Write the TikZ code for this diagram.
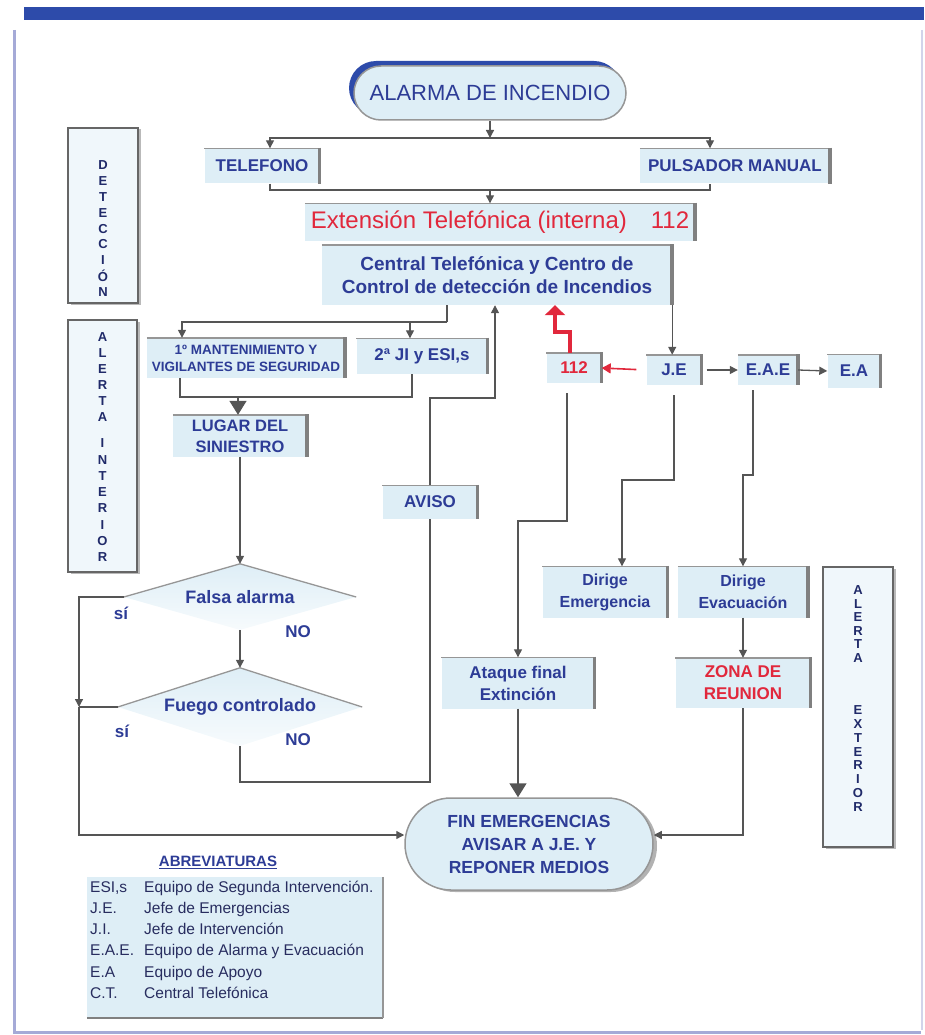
\documentclass[tikz,border=0pt]{standalone}
\usepackage{fontspec}
\setmainfont{Liberation Sans}
\usetikzlibrary{arrows.meta}
\usetikzlibrary{shapes.geometric}
\usetikzlibrary{shapes.misc}
\usetikzlibrary{shadows}

\definecolor{txtblue}{RGB}{45,60,150}
\definecolor{boxfill}{RGB}{222,238,246}
\definecolor{lineg}{RGB}{85,85,85}
\definecolor{edgeg}{RGB}{150,150,150}
\definecolor{redtxt}{RGB}{225,40,60}
\definecolor{barblue}{RGB}{45,75,170}
\definecolor{framel}{RGB}{165,170,215}
\definecolor{legtxt}{RGB}{40,45,95}

\begin{document}
\begin{tikzpicture}[x=1pt,y=-1pt,
  panel/.style={fill=boxfill, text=txtblue, align=center, inner sep=0pt,
    font=\bfseries\fontsize{17}{22}\selectfont,
    append after command={(\tikzlastnode.north west) edge[draw=edgeg,line width=1.5pt] (\tikzlastnode.north east)
      ([yshift=0.75pt]\tikzlastnode.north east) edge[draw=gray,line width=3.5pt] (\tikzlastnode.south east)}},
  flow/.style={draw=lineg, line width=1.3pt, -{Triangle[length=8pt,width=8pt]}},
  plain/.style={draw=lineg, line width=1.3pt},
  bigflow/.style={draw=lineg, line width=1.5pt, -{Triangle[length=14pt,width=17pt]}},
  redflow/.style={draw=redtxt, line width=1.6pt, -{Triangle[length=9pt,width=10pt]}},
  bigred/.style={draw=redtxt, line width=3.5pt, -{Triangle[length=10pt,width=20pt]}},
  pill/.style={rounded rectangle, draw=edgeg, line width=1.5pt, fill=boxfill, text=txtblue, align=center, inner sep=0pt},
  decision/.style={diamond, aspect=3.5, inner sep=0pt, top color=boxfill, bottom color=boxfill!25, text=txtblue,
    font=\bfseries\fontsize{18}{22}\selectfont,
    append after command={(\tikzlastnode.west) edge[draw=edgeg,line width=1.3pt] (\tikzlastnode.north)
      (\tikzlastnode.north) edge[draw=edgeg,line width=1.3pt] (\tikzlastnode.east)}},
  sidebox/.style={draw=lineg!90, line width=2pt, fill=boxfill!45,
    drop shadow={shadow xshift=3pt,shadow yshift=-1.5pt,fill=gray!55,opacity=1}},
  vletter/.style={text=txtblue!70!black, font=\bfseries\fontsize{13}{14}\selectfont, inner sep=0pt},
  yesno/.style={text=txtblue, font=\bfseries\fontsize{17}{20}\selectfont, inner sep=0pt},
  legtext/.style={text=legtxt, font=\fontsize{15.5}{17}\selectfont, anchor=base west, inner sep=0pt}
]
\useasboundingbox (0,0) rectangle (924,1035);
% frame
\fill[barblue] (24,7) rectangle (924,20);
\draw[framel,line width=3pt] (14,30) -- (14,1032) -- (921,1032);
\draw[framel!50,line width=2pt] (922,30) -- (922,1030);

% side labels
\node[sidebox, minimum width=70, minimum height=175] (det) at (103,215.5) {};
\node[sidebox, minimum width=69, minimum height=252] (aint) at (102.5,446) {};
\node[sidebox, minimum width=70, minimum height=280] (aext) at (858,707) {};
\foreach \l [count=\i] in {D,E,T,E,C,C,I,Ó,N}
  \node[vletter] (det\i) at (103,{149.1+15.9*\i}) {\l};
\foreach \l [count=\i] in {A,L,E,R,T,A}
  \node[vletter] (ai\i) at (102.5,{321+16*\i}) {\l};
\foreach \l [count=\i] in {I,N,T,E,R,I,O,R}
  \node[vletter] (ni\i) at (102.5,{427+16.3*\i}) {\l};
\foreach \l [count=\i] in {A,L,E,R,T,A}
  \node[vletter] (ae\i) at (858,{576.4+13.6*\i}) {\l};
\foreach \l [count=\i] in {E,X,T,E,R,I,O,R}
  \node[vletter] (ne\i) at (858,{696+13.9*\i}) {\l};

% boxes
\node[pill, minimum width=272, minimum height=54, font=\fontsize{22}{25}\selectfont,
  drop shadow={shadow xshift=-5pt,shadow yshift=5pt,fill=barblue,opacity=1}] (alarm) at (490,93) {ALARMA DE INCENDIO};
\node[panel, minimum width=115, minimum height=35] (tel) at (262,166) {TELEFONO};
\node[panel, minimum width=190, minimum height=35] (puls) at (735,166) {PULSADOR MANUAL};
\node[panel, minimum width=390, minimum height=37, text=redtxt, font=\fontsize{24}{27}\selectfont] (ext) at (500,222) {Extensión Telefónica (interna)\quad 112};
\node[panel, minimum width=350, minimum height=60, font=\bfseries\fontsize{19}{23}\selectfont] (central) at (497,275) {Central Telefónica y Centro de\\Control de detección de Incendios};
\node[panel, minimum width=198, minimum height=40, font=\bfseries\fontsize{13.5}{17}\selectfont] (mant) at (246,358) {1º MANTENIMIENTO Y\\VIGILANTES DE SEGURIDAD};
\node[panel, minimum width=131, minimum height=35] (jiesi) at (422,356) {2ª JI y ESI,s};
\node[panel, minimum width=134, minimum height=42, font=\bfseries\fontsize{16.5}{21}\selectfont] (lugar) at (240,436) {LUGAR DEL\\SINIESTRO};
\node[panel, minimum width=95, minimum height=33] (aviso) at (430,502) {AVISO};
\node[panel, minimum width=55, minimum height=30, text=redtxt] (n112) at (574,368) {112};
\node[panel, minimum width=55, minimum height=30] (je) at (674,370) {J.E};
\node[panel, minimum width=60, minimum height=30] (eae) at (768,370) {E.A.E};
\node[panel, minimum width=53, minimum height=33] (ea) at (854,371) {E.A};
\node[panel, minimum width=125, minimum height=51, font=\bfseries\fontsize{16}{22}\selectfont] (dirEm) at (605,592) {Dirige\\Emergencia};
\node[panel, minimum width=130, minimum height=51, font=\bfseries\fontsize{16}{22}\selectfont] (dirEv) at (743,592) {Dirige\\Evacuación};
\node[panel, minimum width=153, minimum height=51] (ataque) at (518,683) {Ataque final\\Extinción};
\node[panel, minimum width=135, minimum height=50, text=redtxt] (zona) at (743,683) {ZONA DE\\REUNION};
\node[pill, minimum width=248, minimum height=92, font=\bfseries\fontsize{17.5}{23}\selectfont,
  drop shadow={shadow xshift=4pt,shadow yshift=-2pt,fill=gray!60,opacity=1}] (fin) at (529,844) {FIN EMERGENCIAS\\AVISAR A J.E. Y\\REPONER MEDIOS};

% decisions
\node[decision, minimum width=232, minimum height=66] (falsa) at (240,597) {Falsa alarma};
\node[decision, minimum width=244, minimum height=78] (fuego) at (240,707) {Fuego controlado};
\node[yesno] (si1) at (121,613) {sí};
\node[yesno] (no1) at (298,632) {NO};
\node[yesno] (si2) at (122,731) {sí};
\node[yesno] (no2) at (298,740) {NO};

% connectors
\coordinate (split1) at (490,138);
\coordinate (join1) at (490,190);
\coordinate (split2) at (447,322);
\coordinate (join2) at (238,397);
\coordinate (rail) at (79,707);
\coordinate (loopc) at (430,782);
\coordinate (avup) at (430,398);
\coordinate (redjog) at (555,332);
\coordinate (bend112) at (518,521);
\coordinate (bendje) at (622,480);
\coordinate (bendeae) at (743,475);

\draw[flow] (alarm.south) -- (split1);
\draw[flow] (split1) -| ([xshift=8pt]tel.north);
\draw[flow] (split1) -| ([xshift=-25pt]puls.north);
\draw[plain] ([xshift=8pt]tel.south) |- (join1) -| ([xshift=-25pt]puls.south);
\draw[flow] (join1) -- (join1 |- ext.north);
\draw[plain] (split2 |- central.south) -- (split2);
\draw[flow] (split2) -| ([xshift=-64pt]mant.north);
\draw[flow] (split2) -| ([xshift=-12pt]jiesi.north);
\draw[plain] ([xshift=-66pt]mant.south) |- (join2) -| ([xshift=-10pt]jiesi.south);
\draw[bigflow] (join2) -- (join2 |- lugar.north);
\draw[flow] (lugar) -- (falsa);
\draw[flow] (falsa) -- (fuego);
\draw[flow] (falsa.west) -| (rail);
\draw[plain] (fuego.west) -- (rail);
\draw[flow] (rail) |- ([yshift=9pt]fin.west);
\draw[plain] (fuego.south) |- (loopc) -- (aviso.south);
\draw[flow] (aviso.north) -- (avup) -| ([xshift=-2pt]central.south);
\draw[bigred] ([xshift=-4pt]n112.north) |- (redjog) -- (redjog |- central.south);
\draw[redflow, shorten <=10pt] (je.west) -- (n112.east);
\draw[flow] (central.south east) -- (central.south east |- je.north);
\draw[flow, shorten <=5pt] (je.east) -- (eae.west);
\draw[flow] (eae.east) -- (ea.west);
\draw[flow, shorten <=10pt] ([xshift=-7pt]n112.south) |- (bend112) -- (bend112 |- ataque.north);
\draw[flow, shorten <=10pt] (je.south) |- (bendje) -- (bendje |- dirEm.north);
\draw[flow, shorten <=5pt] ([xshift=-15pt]eae.south) |- (bendeae) -- (dirEv.north);
\draw[flow] (dirEv) -- (zona);
\draw[flow] (zona.south) |- ([yshift=9pt]fin.east);
\draw[bigflow] (ataque.south) -- (ataque.south |- fin.north);

% legend
\node[fill=boxfill, minimum width=296, minimum height=141, inner sep=0pt,
  append after command={(\tikzlastnode.south west) edge[draw=gray,line width=1.5pt] (\tikzlastnode.south east)
    (\tikzlastnode.north east) edge[draw=edgeg,line width=1.5pt] (\tikzlastnode.south east)}] (legend) at (235,947.5) {};
\node[text=txtblue, font=\bfseries\fontsize{15}{17}\selectfont] (abrev) at (218,862) {\underline{ABREVIATURAS}};
\foreach \ab/\tx [count=\i] in {{ESI,s}/{Equipo de Segunda Intervención.},{J.E.}/{Jefe de Emergencias},
    {J.I.}/{Jefe de Intervención},{E.A.E.}/{Equipo de Alarma y Evacuación},{E.A}/{Equipo de Apoyo},
    {C.T.}/{Central Telefónica}} {
  \node[legtext] (ab\i) at (90,{871+21.2*\i}) {\ab};
  \node[legtext] (tx\i) at (144,{871+21.2*\i}) {\tx};
}
\end{tikzpicture}
\end{document}
